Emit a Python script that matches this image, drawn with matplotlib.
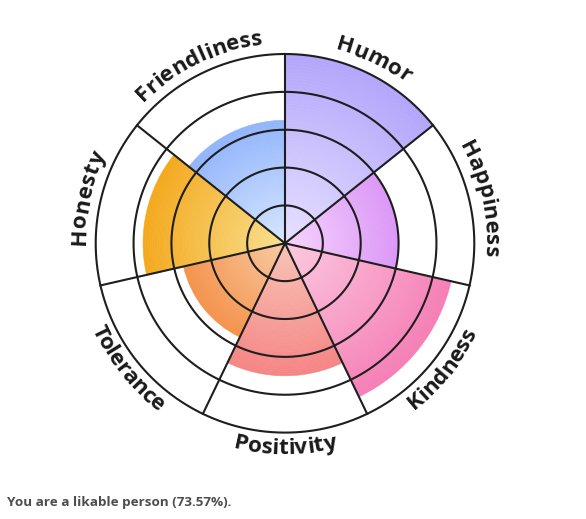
import numpy as np
import matplotlib
matplotlib.use("Agg")
from matplotlib import pyplot as plt
from matplotlib.colors import to_rgb
from matplotlib.font_manager import FontProperties
from matplotlib.textpath import TextToPath

# scores per trait, in percent of the outer ring
categories = ['Humor', 'Happiness', 'Kindness', 'Positivity', 'Tolerance', 'Honesty', 'Friendliness']
scores = [100, 60, 90, 70, 55, 75, 65]
inner_colors = ['#e7e1ff', '#f6d4fd', '#fccadf', '#f8c3b6', '#f8caa2', '#f8e090', '#d8e7ff']
outer_colors = ['#b3a6fb', '#dc97f7', '#f57fb6', '#f58585', '#f4924b', '#f4a91d', '#92b5fb']
ring_levels = [20, 40, 60, 80, 100]
summary = 'You are a likable person (73.57%).'

DPI = 100
fig = plt.figure(figsize=(5.86, 5.19), dpi=DPI)
# polar axes: center at (285, 243) px, outer radius ~189 px
R_PX = 189.3
ax = fig.add_axes([(285 - R_PX) / 586, (519 - 243.3 - R_PX) / 519, 2 * R_PX / 586, 2 * R_PX / 519],
                  projection='polar')
ax.set_theta_zero_location('N')
ax.set_theta_direction(-1)
ax.set_ylim(0, 100)
ax.set_xticks([])
ax.set_yticks([])
ax.grid(False)
ax.spines['polar'].set_visible(False)

n = len(categories)
sector = 2 * np.pi / n
starts = np.arange(n) * sector

# bars with a radial gradient, built from thin stacked slices
steps = 60
for i in range(n):
    c0 = np.array(to_rgb(inner_colors[i]))
    c1 = np.array(to_rgb(outer_colors[i]))
    h = scores[i] / steps
    for k in range(steps):
        t = k / (steps - 1)
        col = c0 + (c1 - c0) * t
        ax.bar(starts[i], h, width=sector, bottom=k * h, align='edge',
               color=col, edgecolor=col, linewidth=0.4)

line_col = '#1e1e1e'
th = np.linspace(0, 2 * np.pi, 400)
for r in ring_levels:
    ax.plot(th, np.full_like(th, r), color=line_col, lw=1.5, clip_on=False, zorder=5)
for a in starts:
    ax.plot([a, a], [0, 100], color=line_col, lw=1.5, clip_on=False, zorder=5)

# curved labels, one glyph at a time
fp = FontProperties(family='Open Sans', weight='bold', size=16.2)
ttp = TextToPath()


def width_px(s):
    if not s:
        return 0.0
    return ttp.get_text_width_height_descent(s, fp, ismath=False)[0] * DPI / 72


R_top = 200.0   # baseline radius, px, letters pointing outwards
R_bot = 211.0   # baseline radius, px, letters pointing inwards
for i, label in enumerate(categories):
    tc = starts[i] + sector / 2
    bottom_half = np.pi / 2 < tc < 3 * np.pi / 2
    total = width_px(label)
    for j, ch in enumerate(label):
        off = (width_px(label[:j]) + width_px(label[:j + 1])) / 2 - total / 2
        if bottom_half:
            a = tc - off / R_bot
            rot = 180 - np.degrees(a)
            r = R_bot / R_PX * 100
        else:
            a = tc + off / R_top
            rot = -np.degrees(a)
            r = R_top / R_PX * 100
        ax.text(a, r, ch, fontproperties=fp, color='#1a1a1a', rotation=rot,
                rotation_mode='anchor', ha='center', va='baseline', clip_on=False)

fig.text(7 / 586, 1 - 506 / 519, summary, family='Open Sans', weight='bold',
         fontsize=9.7, color='#4d4d4d', ha='left', va='baseline')

fig.savefig('out.png', dpi=DPI)
